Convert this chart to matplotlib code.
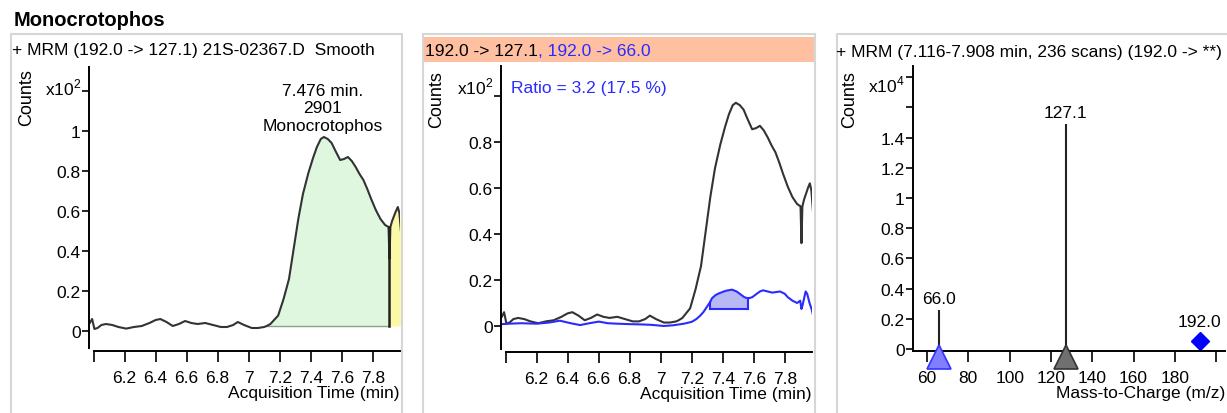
import matplotlib
matplotlib.use("Agg")
import matplotlib.pyplot as plt
import matplotlib.patches as patches
import matplotlib.transforms as mtransforms
import numpy as np

plt.rcParams['font.family'] = ['Liberation Sans', 'DejaVu Sans']
plt.rcParams['mathtext.fontset'] = 'custom'
plt.rcParams['mathtext.rm'] = 'Liberation Sans'

# --- data ---
compound = 'Monocrotophos'

# quantifier trace 192.0 -> 127.1 (counts)
time_q = [5.975, 5.99, 6.005, 6.025, 6.05, 6.08, 6.12, 6.16, 6.21, 6.26, 6.31, 6.36,
          6.40, 6.43, 6.47, 6.51, 6.55, 6.59, 6.63, 6.67, 6.72, 6.77, 6.82, 6.86,
          6.90, 6.93, 6.97, 7.02, 7.06, 7.10, 7.116, 7.14, 7.19, 7.225, 7.26, 7.29,
          7.32, 7.35, 7.385, 7.415, 7.44, 7.465, 7.485, 7.51, 7.535, 7.56, 7.59,
          7.615, 7.64, 7.665, 7.69, 7.715, 7.74, 7.765, 7.79, 7.82, 7.85, 7.88,
          7.902, 7.908, 7.914, 7.925, 7.935, 7.95, 7.962, 7.972, 7.982]
counts_q = [4, 6, 1, 1.5, 3, 3.5, 3, 2, 1.2, 2, 2.5, 4, 5.5, 6, 4.5, 2.5, 3.5, 5,
            4, 3.5, 4, 3, 2, 2, 3, 4.5, 3, 1.5, 1.5, 2, 2.5, 3.5, 7.7, 16, 26, 41,
            56, 68.5, 79, 86.5, 92, 96, 97, 96, 94, 90, 85.5, 86, 87, 85, 82, 78.5,
            75.5, 71, 66, 60.5, 56, 53, 52, 36, 52, 55, 57, 60, 62, 59, 50]

# qualifier trace 192.0 -> 66.0 (counts)
time_qual = [5.975, 6.02, 6.1, 6.2, 6.28, 6.35, 6.42, 6.48, 6.54, 6.6, 6.66, 6.72,
             6.8, 6.87, 6.94, 7.02, 7.08, 7.15, 7.2, 7.23, 7.255, 7.275, 7.30, 7.32,
             7.33, 7.355, 7.38, 7.42, 7.46, 7.49, 7.51, 7.54, 7.565, 7.59, 7.62, 7.64,
             7.66, 7.69, 7.72, 7.75, 7.77, 7.80, 7.82, 7.85, 7.88, 7.90, 7.908, 7.915,
             7.935, 7.945, 7.96, 7.975, 7.985]
counts_qual = [0.8, 1, 1.2, 1, 1.5, 2.3, 1.2, 0.4, 1.2, 1.9, 1.2, 1, 0.8, 0.7, 0.5,
               0, 0.3, 1, 1.8, 3, 4.5, 6, 8.5, 10.5, 12, 13.5, 14.3, 15.3, 15.8, 15,
               14, 12.5, 12, 12.5, 14, 15, 15.5, 15, 14.5, 14.8, 15, 14, 12.5, 11, 10,
               11, 7.4, 9, 15, 14, 10, 7, 4]

peak_rt = 7.476
peak_area = 2901
peak_start, peak_end = 7.116, 7.908
peak_base = 2.5
qual_start, qual_end = 7.32, 7.565
qual_base = 7.4
ratio_text = 'Ratio = 3.2 (17.5 %)'

# MRM spectrum
ion_mz = [66.0, 127.1]
ion_counts = [2600, 14900]
ion_colors = ['#3333ff', '#333333']
ion_fills = ['#7f7fff', '#707070']
precursor_mz = 192.0
precursor_counts = 500

BLUE = '#2b2bff'
W, H = 1227, 414


def rect(x0, y0, x1, y1):
    # pixel box (top-left origin) -> figure fraction
    return [x0 / W, 1 - y1 / H, (x1 - x0) / W, (y1 - y0) / H]


fig = plt.figure(figsize=(W / 100, H / 100), dpi=100)

fs = 12.5
fig.text(14 / W, 1 - 20 / H, compound, fontsize=14.5, fontweight='bold', va='center')

# panel frames
for x0, x1 in [(11, 402), (423, 815), (837, 1240)]:
    fig.add_artist(patches.Rectangle((x0 / W, -0.05), (x1 - x0) / W, 1 - 35 / H + 0.05,
                                     transform=fig.transFigure, fill=False,
                                     edgecolor='#d6d6d6', lw=1.5, zorder=-2))
fig.add_artist(patches.Rectangle((424 / W, 1 - 63 / H), 390 / W, 25 / H,
                                 transform=fig.transFigure, color='#ffbfa0', lw=0,
                                 zorder=-1))


def style(ax, xticks, yticks, ylabels, xlabel):
    ax.patch.set_visible(False)
    for s in ['top', 'right']:
        ax.spines[s].set_visible(False)
    for s in ['left', 'bottom']:
        ax.spines[s].set_linewidth(1.4)
    ax.set_yticks(yticks)
    ax.set_yticklabels(ylabels)
    ax.tick_params(axis='y', direction='out', length=5, width=1.2, pad=1, labelsize=fs)
    ax.tick_params(axis='x', direction='out', length=8, width=1.2, pad=6, labelsize=fs)
    ax.set_xticks(xticks)
    ax.set_xlabel(xlabel, fontsize=fs, loc='right', labelpad=0)


time_ticks = [6.0, 6.2, 6.4, 6.6, 6.8, 7.0, 7.2, 7.4, 7.6, 7.8]
time_labels = [''] + ['6.2', '6.4', '6.6', '6.8', '7', '7.2', '7.4', '7.6', '7.8']

t = np.array(time_q)
c = np.array(counts_q) / 100
tq = np.array(time_qual)
cq = np.array(counts_qual) / 100

# ---- panel 1: quantifier with integrated peak ----
ax1 = fig.add_axes(rect(89, 68, 400, 349))
ax1.set_xlim(5.97, 7.976)
ax1.set_ylim(-0.085, 1.32)
green = (t >= peak_start) & (t <= peak_end)
yellow = t >= peak_end
ax1.fill_between(t, peak_base / 100, c, where=green, color='#dff7df', lw=0)
ax1.fill_between(t, peak_base / 100, c, where=yellow, color='#fbf9a8', lw=0)
ax1.plot([peak_start, peak_end], [peak_base / 100] * 2, color='#8aa08a', lw=1)
ax1.plot(t, c, color='#333333', lw=1.5)
edge = c[list(t).index(peak_end) - 1]
ax1.plot([peak_end, peak_end], [peak_base / 100, edge], color='#222222', lw=1.8)
ax1.plot([t[-1], t[-1]], [peak_base / 100, c[-1]], color='#c8c8a0', lw=1)
style(ax1, time_ticks, [0, 0.2, 0.4, 0.6, 0.8, 1.0, 1.2],
      ['0', '0.2', '0.4', '0.6', '0.8', '1', ''], 'Acquisition Time (min)')
ax1.set_xticklabels(time_labels)
ax1.spines['bottom'].set_position(('outward', 2))
ax1.spines['bottom'].set_bounds(6.0, 7.976)
ax1.text(peak_rt, 1.115, '%.3f min.\n%d\n%s' % (peak_rt, peak_area, compound),
         ha='center', va='center', fontsize=fs, linespacing=1.2)
fig.text(12 / W, 1 - 51 / H, '+ MRM (192.0 -> 127.1) 21S-02367.D  Smooth',
         fontsize=fs, va='center')
fig.text(27 / W, 1 - 98 / H, 'Counts', rotation=90, fontsize=13, ha='center', va='center')
fig.text(45 / W, 1 - 88 / H, 'x10$^{2}$', fontsize=fs, va='center')

# ---- panel 2: quantifier + qualifier overlay ----
ax2 = fig.add_axes(rect(501, 67, 812, 350))
ax2.set_xlim(5.97, 7.976)
ax2.set_ylim(-0.1, 1.13)
qsel = (tq >= qual_start) & (tq <= qual_end)
ax2.fill_between(tq, qual_base / 100, cq, where=qsel, color='#b8b8f4', lw=0)
ax2.plot([qual_start, qual_end], [qual_base / 100] * 2, color=BLUE, lw=1.5)
ax2.plot([qual_start, qual_start], [qual_base / 100, cq[qsel][0]], color=BLUE, lw=1.5)
ax2.plot([qual_end, qual_end], [qual_base / 100, cq[qsel][-1]], color=BLUE, lw=1.5)
ax2.plot(t, c, color='#333333', lw=1.5)
ax2.plot(tq, cq, color=BLUE, lw=1.5)
style(ax2, time_ticks, [0, 0.2, 0.4, 0.6, 0.8, 1.0],
      ['0', '0.2', '0.4', '0.6', '0.8', ''], 'Acquisition Time (min)')
ax2.set_xticklabels(time_labels)
ax2.spines['bottom'].set_position(('outward', 2))
ax2.spines['bottom'].set_bounds(6.0, 7.976)
t1 = fig.text(425 / W, 1 - 51 / H, '192.0 -> 127.1', fontsize=fs, va='center')
ax2.annotate(', 192.0 -> 66.0', xy=(1, 0), xycoords=t1, va='bottom', ha='left',
             fontsize=fs, color=BLUE, annotation_clip=False)
fig.text(511 / W, 1 - 88 / H, ratio_text, fontsize=fs, color=BLUE, va='center')
fig.text(437 / W, 1 - 100 / H, 'Counts', rotation=90, fontsize=13, ha='center', va='center')
fig.text(457 / W, 1 - 87 / H, 'x10$^{2}$', fontsize=fs, va='center')

# ---- panel 3: MRM product ion spectrum ----
ax3 = fig.add_axes(rect(913, 67, 1225, 352))
ax3.set_xlim(53.2, 204.3)
ax3.set_ylim(-0.013, 1.874)
mz = np.array(ion_mz)
ic = np.array(ion_counts) / 1e4
ax3.vlines(mz, 0, ic, color='#222222', lw=1.5)
below = mtransforms.offset_copy(ax3.transData, fig=fig, y=-6, units='points')
for m, h, ec, fc in zip(mz, ic, ion_colors, ion_fills):
    ax3.plot(m, 0, marker='^', ms=17, mfc=fc, mec=ec, mew=1.2, transform=below,
             clip_on=False, zorder=5)
    ax3.annotate('%.1f' % m, (m, h), xytext=(0, 3), textcoords='offset points',
                 ha='center', va='bottom', fontsize=fs)
ax3.plot(precursor_mz, precursor_counts / 1e4, marker='D', ms=9, color='#0000ff',
         clip_on=False)
ax3.annotate('%.1f' % precursor_mz, (precursor_mz, precursor_counts / 1e4),
             xytext=(0, 9), textcoords='offset points', ha='center', va='bottom',
             fontsize=fs)
style(ax3, [60, 80, 100, 120, 140, 160, 180, 200],
      [0, 0.2, 0.4, 0.6, 0.8, 1.0, 1.2, 1.4, 1.6, 1.8],
      ['0', '0.2', '0.4', '0.6', '0.8', '1', '1.2', '1.4', '', ''], 'Mass-to-Charge (m/z)')
ax3.set_xticklabels(['60', '80', '100', '120', '140', '160', '180', ''])
fig.text(836 / W, 1 - 52 / H, '+ MRM (7.116-7.908 min, 236 scans) (192.0 -> **)',
         fontsize=fs, va='center')
fig.text(850 / W, 1 - 100 / H, 'Counts', rotation=90, fontsize=13, ha='center', va='center')
fig.text(868 / W, 1 - 85 / H, 'x10$^{4}$', fontsize=fs, va='center')

fig.savefig('out.png', dpi=100)
